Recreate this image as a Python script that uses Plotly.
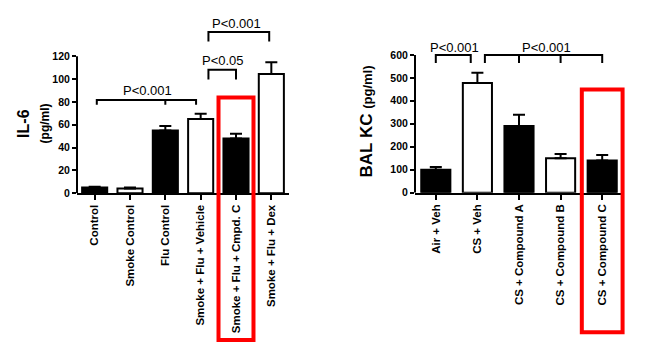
import plotly.graph_objects as go

# ---------------- data ----------------
il6_categories = ["Control", "Smoke Control", "Flu Control", "Smoke + Flu + Vehicle",
                  "Smoke + Flu + Cmpd. C", "Smoke + Flu + Dex"]
il6_values = [5, 4, 55, 65, 48, 104.5]
il6_errors = [0.6, 1, 4, 4.6, 4, 10.3]
il6_fill = ["black", "white", "black", "white", "black", "white"]
il6_ticks = [0, 20, 40, 60, 80, 100, 120]

kc_categories = ["Air + Veh", "CS + Veh", "CS + Compound A", "CS + Compound B", "CS + Compound C"]
kc_values = [100, 478, 290, 150, 140]
kc_errors = [12, 44, 49, 18, 24]
kc_fill = ["black", "white", "black", "white", "black"]
kc_ticks = [0, 100, 200, 300, 400, 500, 600]

# significance brackets: (x start, x end, inner ticks, bar level, tip level, label, label x, label y)
il6_brackets = [
    (0.06, 2.87, [2.0], 81.6, 77.5, "P<0.001", 1.5, 90.4),
    (3.22, 4.0, [], 108.3, 99.7, "P<0.05", 3.62, 116.3),
    (3.22, 4.94, [], 141.3, 133.0, "P<0.001", 4.0, 148.8),
]
kc_brackets = [
    (0.0, 0.84, [], 600, 565, "P<0.001", 0.44, 633),
    (1.18, 4.0, [2.0, 3.0], 600, 565, "P<0.001", 2.67, 633),
]

FONT = "Liberation Sans, Arial, sans-serif"
OFF = 8  # default body margin of the html page
W, H = 645 - 2 * OFF, 356 - 2 * OFF  # so the page fits the window without scrolling


def px(x):
    return (x - OFF) / W


def py(y):
    return 1 - (y - OFF) / H


fig = go.Figure()


def add_panel(cats, vals, errs, fills, xa, ya, width):
    fig.add_trace(go.Bar(
        x=cats, y=vals, xaxis=xa, yaxis=ya, width=width,
        marker=dict(color=fills, line=dict(color="black", width=2)),
        error_y=dict(type="data", array=errs, arrayminus=[0] * len(errs), symmetric=False,
                     color="black", thickness=2, width=6),
        showlegend=False, hoverinfo="skip"))


add_panel(il6_categories, il6_values, il6_errors, il6_fill, "x", "y", 0.71)
add_panel(kc_categories, kc_values, kc_errors, kc_fill, "x2", "y2", 0.70)

axis_common = dict(showgrid=False, zeroline=False, ticks="outside", tickwidth=2,
                   tickcolor="black", linecolor="black", linewidth=2)
xfont = dict(family=FONT, size=11.5, color="black", weight="bold")
yfont = dict(family=FONT, size=10.5, color="black", weight="bold")

Y0_L, PPU_L, TOP_L = 196.5, 1.161, 158
Y0_R, PPU_R, TOP_R = 196.0, 0.2338, 670

fig.update_layout(
    width=W, height=H, margin=dict(l=0, r=0, t=0, b=0),
    paper_bgcolor="white", plot_bgcolor="white",
    xaxis=dict(domain=[px(77), px(289)], anchor="y", showline=True, tickangle=-90, ticklen=5,
               tickfont=xfont, range=[-0.5, 5.5], **axis_common),
    yaxis=dict(domain=[py(Y0_L), py(Y0_L - TOP_L * PPU_L)], anchor="x", showline=False, ticklen=4,
               range=[0, TOP_L], tickvals=il6_ticks, tickfont=yfont, **axis_common),
    xaxis2=dict(domain=[px(415), px(623)], anchor="y2", showline=True, tickangle=-90, ticklen=5,
                tickfont=xfont, range=[-0.5, 4.5], **axis_common),
    yaxis2=dict(domain=[py(Y0_R), py(Y0_R - TOP_R * PPU_R)], anchor="x2", showline=False, ticklen=4,
                range=[0, TOP_R], tickvals=kc_ticks, tickfont=yfont, **axis_common),
)

# y axis lines only up to the last tick
for xr, yr, top in [("x domain", "y", il6_ticks[-1]), ("x2 domain", "y2", kc_ticks[-1])]:
    fig.add_shape(type="line", xref=xr, yref=yr, x0=0, x1=0, y0=0, y1=top,
                  line=dict(color="black", width=2))


def add_brackets(brackets, xr, yr):
    for x0, x1, inner, lvl, tip, label, lx, ly in brackets:
        path = f"M {x0} {tip} L {x0} {lvl} L {x1} {lvl} L {x1} {tip}"
        for t in inner:
            path += f" M {t} {lvl} L {t} {tip}"
        fig.add_shape(type="path", xref=xr, yref=yr, path=path,
                      line=dict(color="black", width=2))
        fig.add_annotation(x=lx, y=ly, xref=xr, yref=yr, text=label, showarrow=False,
                           xanchor="center", yanchor="middle",
                           font=dict(family=FONT, size=13, color="black"))


add_brackets(il6_brackets, "x", "y")
add_brackets(kc_brackets, "x2", "y2")


# red highlight boxes around the Compound C groups
def highlight(idx, n, xr, y0, y1, hw):
    fig.add_shape(type="rect", xref=xr, yref="paper",
                  x0=(idx + 0.5 - hw) / n, x1=(idx + 0.5 + hw) / n, y0=y0, y1=y1,
                  line=dict(color="#ff0000", width=4), fillcolor="rgba(0,0,0,0)")


highlight(il6_categories.index("Smoke + Flu + Cmpd. C"), len(il6_categories), "x domain",
          py(346), py(99), 0.495)
highlight(kc_categories.index("CS + Compound C"), len(kc_categories), "x2 domain",
          py(338), py(91), 0.49)

# axis titles
title_common = dict(xref="paper", yref="paper", textangle=-90, showarrow=False,
                    xanchor="center", yanchor="middle")
fig.add_annotation(x=px(24), y=py(126), text="<b>IL-6</b>",
                   font=dict(family=FONT, size=16, color="black"), **title_common)
fig.add_annotation(x=px(44.5), y=py(126), text="<b>(pg/ml)</b>",
                   font=dict(family=FONT, size=12, color="black"), **title_common)
fig.add_annotation(x=px(366), y=py(123.5),
                   text="<b>BAL KC</b> <span style='font-size:13px'><b>(pg/ml)</b></span>",
                   font=dict(family=FONT, size=17, color="black"), **title_common)

fig.write_html("out.html")
